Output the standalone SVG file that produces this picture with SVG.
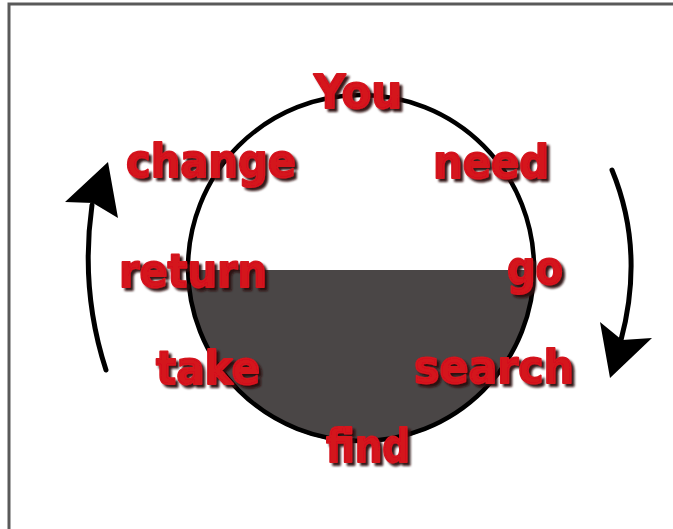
<svg xmlns="http://www.w3.org/2000/svg" width="673" height="529" viewBox="0 0 673 529">
  <style>
    .word { font-family: "DejaVu Sans", "Liberation Sans", sans-serif; font-weight: bold; font-size: 46px; fill: #d4121c; stroke: #d4121c; stroke-width: 2; stroke-linejoin: round; filter: url(#shadow); }
    .arrow { fill: none; stroke: #000; stroke-width: 5; stroke-linecap: round; }
    .head { fill: #000; }
  </style>
  <defs>
    <filter id="shadow" x="-10%" y="-20%" width="130%" height="150%">
      <feDropShadow dx="3" dy="3" stdDeviation="1.2" flood-color="#2a0808" flood-opacity="0.95"/>
    </filter>
  </defs>
  <rect x="0" y="0" width="673" height="529" fill="#ffffff"/>
  <path d="M 9 529 V 4 H 673" fill="none" stroke="#5a5a5a" stroke-width="3"/>

  <g id="circle">
    <path d="M 188 270 A 173 173 0 0 0 534 270 Z" fill="#4a4646"/>
    <circle cx="361" cy="268" r="173" fill="none" stroke="#000" stroke-width="4.5"/>
  </g>

  <g id="connectors">
    <g id="arrow-left">
      <path class="arrow" d="M 106 370 Q 80 290 92 205"/>
      <polygon class="head" points="108,162 118,218 93,203 65,202"/>
    </g>
    <g id="arrow-right">
      <path class="arrow" d="M 612 170 Q 645 250 621 340"/>
      <polygon class="head" points="610,378 600,322 622,340 652,338"/>
    </g>
  </g>

  <g id="you"><text class="word" x="314" y="108" textLength="88" lengthAdjust="spacingAndGlyphs">You</text></g>
  <g id="need"><text class="word" x="433" y="178" textLength="116" lengthAdjust="spacingAndGlyphs">need</text></g>
  <g id="go"><text class="word" x="507" y="284" textLength="56" lengthAdjust="spacingAndGlyphs">go</text></g>
  <g id="search"><text class="word" x="414" y="383" textLength="160" lengthAdjust="spacingAndGlyphs">search</text></g>
  <g id="find"><text class="word" x="326" y="462" textLength="84" lengthAdjust="spacingAndGlyphs">find</text></g>
  <g id="take"><text class="word" x="156" y="384" textLength="104" lengthAdjust="spacingAndGlyphs">take</text></g>
  <g id="return"><text class="word" x="119" y="287" textLength="148" lengthAdjust="spacingAndGlyphs">return</text></g>
  <g id="change"><text class="word" x="126" y="177" textLength="170" lengthAdjust="spacingAndGlyphs">change</text></g>
</svg>
